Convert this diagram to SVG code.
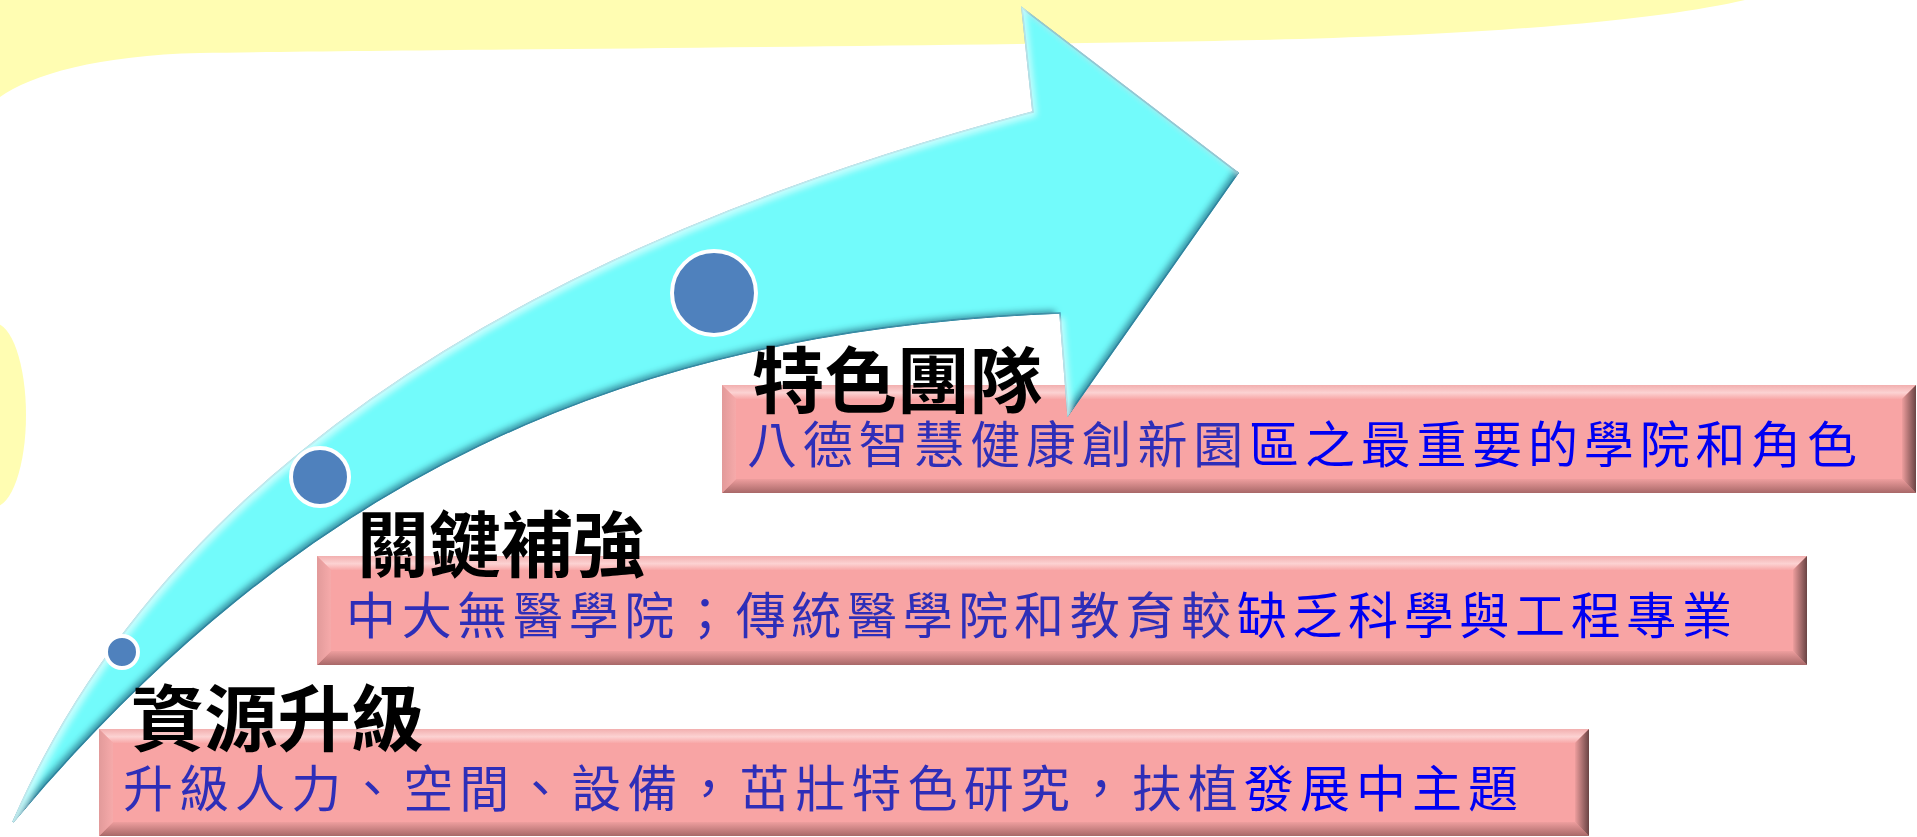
<svg xmlns="http://www.w3.org/2000/svg" width="1917" height="837" viewBox="0 0 1917 837">
  <defs>
    <style>
      .title { font-family: "Noto Sans CJK TC", "Noto Sans CJK SC", sans-serif; font-weight: 700; font-size: 72px; fill: #000000; }
      .desc { font-family: "Noto Sans CJK TC", "Noto Sans CJK SC", sans-serif; font-weight: 400; font-size: 50px; fill: url(#txtGrad); }
      .face-main { fill: #F8A4A4; }
      .face-top { fill: url(#gTop); }
      .face-bottom { fill: url(#gBottom); }
      .face-left { fill: url(#gLeft); }
      .face-right { fill: url(#gRight); }
      .dot { fill: #4F81BD; stroke: #FFFFFF; stroke-width: 4; }
    </style>
    <linearGradient id="txtGrad" gradientUnits="userSpaceOnUse" x1="0" y1="0" x2="1917" y2="0">
      <stop offset="0" stop-color="#2E2EB8"/>
      <stop offset="0.6468" stop-color="#2E2EB8"/>
      <stop offset="0.6468" stop-color="#0000F2"/>
      <stop offset="1" stop-color="#0000F2"/>
    </linearGradient>
    <linearGradient id="gTop" x1="0" y1="0" x2="0" y2="1">
      <stop offset="0" stop-color="#F2AFAF"/>
      <stop offset="0.55" stop-color="#FCD2D2"/>
      <stop offset="1" stop-color="#F8A8A8"/>
    </linearGradient>
    <linearGradient id="gBottom" x1="0" y1="0" x2="0" y2="1">
      <stop offset="0" stop-color="#EE9E9E"/>
      <stop offset="1" stop-color="#A86868"/>
    </linearGradient>
    <linearGradient id="gLeft" x1="0" y1="0" x2="1" y2="0">
      <stop offset="0" stop-color="#E29A9A"/>
      <stop offset="1" stop-color="#F6AAAA"/>
    </linearGradient>
    <linearGradient id="gRight" x1="0" y1="0" x2="1" y2="0">
      <stop offset="0" stop-color="#EE9E9E"/>
      <stop offset="1" stop-color="#6A4444"/>
    </linearGradient>
    <filter id="bevel" x="-5%" y="-5%" width="110%" height="110%">
      <feGaussianBlur in="SourceAlpha" stdDeviation="3" result="blur"/>
      <feOffset in="blur" dx="-4" dy="-4" result="offDark"/>
      <feComposite in="SourceAlpha" in2="offDark" operator="arithmetic" k1="0" k2="1" k3="-1" k4="0" result="edgeDark"/>
      <feFlood flood-color="#2A7E98" flood-opacity="0.9" result="darkCol"/>
      <feComposite in="darkCol" in2="edgeDark" operator="in" result="dark"/>
      <feOffset in="blur" dx="4" dy="4" result="offLight"/>
      <feComposite in="SourceAlpha" in2="offLight" operator="arithmetic" k1="0" k2="1" k3="-1" k4="0" result="edgeLight"/>
      <feFlood flood-color="#D8FFFF" flood-opacity="0.8" result="lightCol"/>
      <feComposite in="lightCol" in2="edgeLight" operator="in" result="light"/>
      <feMerge>
        <feMergeNode in="SourceGraphic"/>
        <feMergeNode in="dark"/>
        <feMergeNode in="light"/>
      </feMerge>
    </filter>
  </defs>

  <rect x="0" y="0" width="1917" height="837" fill="#FFFFFF"/>

  <g id="background">
    <path d="M0,0 L1745,0 C1680,15 1550,32 1300,39 C1000,46 400,50 200,53 C100,55 30,75 0,97 Z" fill="#FFFDB2"/>
    <ellipse cx="-6" cy="415" rx="32" ry="92" fill="#FFFDB2"/>
  </g>

  <g id="box-team">
    <rect class="face-main" x="722" y="385" width="1194" height="108"/>
    <polygon class="face-top" points="722,385 1916,385 1902,399 736,399"/>
    <polygon class="face-bottom" points="722,493 1916,493 1902,479 736,479"/>
    <polygon class="face-left" points="722,385 736,399 736,479 722,493"/>
    <polygon class="face-right" points="1916,385 1902,399 1902,479 1916,493"/>
  </g>

  <g id="connectors">
    <path id="growth-arrow" filter="url(#bevel)" fill="#72FBFB" stroke="#3E9DB6" stroke-width="1.5" stroke-linejoin="miter"
      d="M13,822 C170,460 550,240 1033,112 L1022,8 L1238,173 L1068,415 L1060,313 C620,330 300,480 13,822 Z"/>
  </g>

  <g id="box-key">
    <rect class="face-main" x="317" y="556" width="1490" height="109"/>
    <polygon class="face-top" points="317,556 1807,556 1793,570 331,570"/>
    <polygon class="face-bottom" points="317,665 1807,665 1793,651 331,651"/>
    <polygon class="face-left" points="317,556 331,570 331,651 317,665"/>
    <polygon class="face-right" points="1807,556 1793,570 1793,651 1807,665"/>
  </g>

  <g id="box-resource">
    <rect class="face-main" x="99" y="729" width="1490" height="107"/>
    <polygon class="face-top" points="99,729 1589,729 1575,743 113,743"/>
    <polygon class="face-bottom" points="99,836 1589,836 1575,822 113,822"/>
    <polygon class="face-left" points="99,729 113,743 113,822 99,836"/>
    <polygon class="face-right" points="1589,729 1575,743 1575,822 1589,836"/>
  </g>

  <g id="dot-resource"><circle class="dot" cx="122" cy="652" r="16"/></g>
  <g id="dot-key"><circle class="dot" cx="320" cy="477" r="29"/></g>
  <g id="dot-team"><circle class="dot" cx="714" cy="293" r="42"/></g>

  <g id="label-team">
    <text class="title" x="752" y="407" textLength="290" lengthAdjust="spacingAndGlyphs">特色團隊</text>
    <text class="desc" x="747" y="463" textLength="1110" lengthAdjust="spacing">八德智慧健康創新園區之最重要的學院和角色</text>
  </g>
  <g id="label-key">
    <text class="title" x="357" y="571" textLength="288" lengthAdjust="spacingAndGlyphs">關鍵補強</text>
    <text class="desc" x="346" y="634" textLength="1386" lengthAdjust="spacing">中大無醫學院；傳統醫學院和教育較缺乏科學與工程專業</text>
  </g>
  <g id="label-resource">
    <text class="title" x="131" y="745" textLength="293" lengthAdjust="spacingAndGlyphs">資源升級</text>
    <text class="desc" x="123" y="807" textLength="1395" lengthAdjust="spacing">升級人力、空間、設備，茁壯特色研究，扶植發展中主題</text>
  </g>
</svg>
